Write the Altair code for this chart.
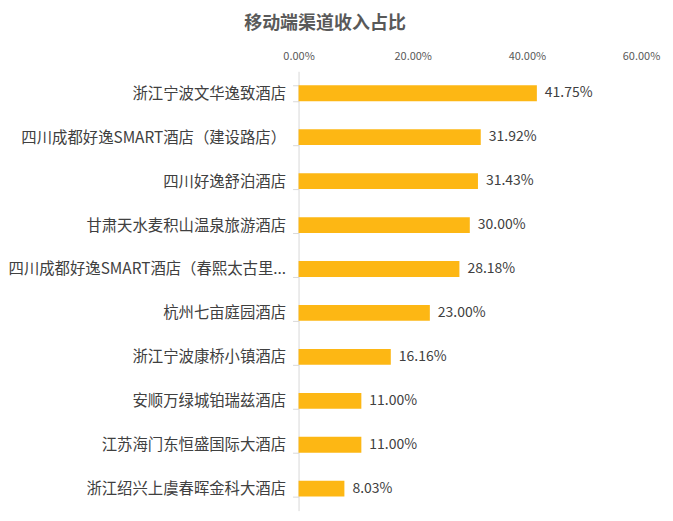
import altair as alt
import pandas as pd

hotels = [
    "浙江宁波文华逸致酒店",
    "四川成都好逸SMART酒店（建设路店）",
    "四川好逸舒泊酒店",
    "甘肃天水麦积山温泉旅游酒店",
    "四川成都好逸SMART酒店（春熙太古里...",
    "杭州七亩庭园酒店",
    "浙江宁波康桥小镇酒店",
    "安顺万绿城铂瑞兹酒店",
    "江苏海门东恒盛国际大酒店",
    "浙江绍兴上虞春晖金科大酒店",
]
shares = [0.4175, 0.3192, 0.3143, 0.3000, 0.2818, 0.2300, 0.1616, 0.1100, 0.1100, 0.0803]
tick_values = [0.0, 0.2, 0.4, 0.6]

df = pd.DataFrame({"hotel": hotels, "share": shares})
FONT = "Noto Sans CJK SC"

y = alt.Y(
    "hotel:N",
    sort=hotels,
    title=None,
    scale=alt.Scale(paddingInner=0.64, paddingOuter=0.32),
    axis=alt.Axis(
        labelFont=FONT,
        labelFontSize=15.4,
        labelColor="#404040",
        labelLimit=400,
        labelPadding=7,
        tickSize=6,
        tickColor="#d9d9d9",
        domainColor="#d9d9d9",
        tickBand="extent",
    ),
)
x = alt.X(
    "share:Q",
    title=None,
    scale=alt.Scale(domain=[0, 0.6], nice=False),
    axis=alt.Axis(
        orient="top",
        values=tick_values,
        format=".2%",
        labelFont=FONT,
        labelFontSize=11,
        labelColor="#595959",
        labelFlush=False,
        grid=False,
        domain=False,
        ticks=False,
        labelPadding=10,
    ),
)

bars = alt.Chart(df).mark_bar(color="#FDB714").encode(x=x, y=y)
text = alt.Chart(df).mark_text(
    align="left", baseline="middle", dx=8, font=FONT, fontSize=14, color="#404040"
).encode(x=alt.X("share:Q"), y=alt.Y("hotel:N", sort=hotels), text=alt.Text("share:Q", format=".2%"))

chart = (
    alt.layer(bars, text)
    .properties(
        width=343,
        height=440,
        title=alt.TitleParams(
            "移动端渠道收入占比",
            font=FONT,
            fontSize=18,
            fontWeight="bold",
            color="#595959",
            anchor="middle",
            dx=-145,
            offset=17,
        ),
        autosize=alt.AutoSizeParams(type="none"),
        padding={"left": 291, "top": 63, "right": 24, "bottom": 2},
    )
    .configure_view(stroke=None)
)

chart.save("out.html", embed_options={"renderer": "svg", "actions": False})
